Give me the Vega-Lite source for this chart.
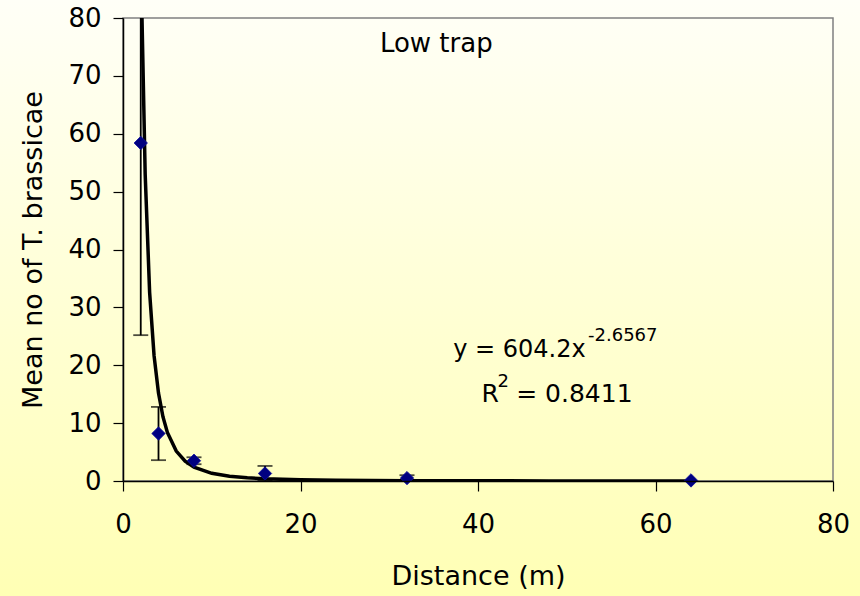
{
  "$schema": "https://vega.github.io/schema/vega-lite/v6.json",
  "autosize": {"type": "none"},
  "padding": {"left": 123, "top": 18, "right": 27, "bottom": 115},
  "width": 710,
  "height": 463,
  "background": "#FFFFE0",
  "config": {
    "font": "DejaVu Sans",
    "view": {"stroke": null, "fill": null},
    "axis": {
      "grid": false,
      "labelFlush": false,
      "domainColor": "#000000",
      "domainWidth": 1.5,
      "tickColor": "#000000",
      "tickWidth": 1.2,
      "tickSize": 10,
      "labelFont": "DejaVu Sans",
      "labelFontSize": 26,
      "labelColor": "#000000",
      "titleFont": "DejaVu Sans",
      "titleFontSize": 27,
      "titleFontWeight": "normal",
      "titleColor": "#000000"
    }
  },
  "datasets": {
    "obs": [
      {"distance": 2, "mean": 58.4, "lo": 25.2, "hi": 91.6},
      {"distance": 4, "mean": 8.2, "lo": 3.6, "hi": 12.8},
      {"distance": 8, "mean": 3.5, "lo": 2.9, "hi": 4.1},
      {"distance": 16, "mean": 1.3, "lo": 0.1, "hi": 2.6},
      {"distance": 32, "mean": 0.5, "lo": 0.0, "hi": 1.0},
      {"distance": 64, "mean": 0.1, "lo": null, "hi": null}
    ],
    "trend": [
      {"distance": 2, "fit": 95.8},
      {"distance": 2.14, "fit": 80.0},
      {"distance": 2.5, "fit": 52.96},
      {"distance": 3, "fit": 32.6},
      {"distance": 3.5, "fit": 21.66},
      {"distance": 4, "fit": 15.19},
      {"distance": 4.5, "fit": 11.11},
      {"distance": 5, "fit": 8.4},
      {"distance": 6, "fit": 5.17},
      {"distance": 7, "fit": 3.43},
      {"distance": 8, "fit": 2.41},
      {"distance": 10, "fit": 1.33},
      {"distance": 12, "fit": 0.82},
      {"distance": 14, "fit": 0.55},
      {"distance": 16, "fit": 0.38},
      {"distance": 20, "fit": 0.21},
      {"distance": 24, "fit": 0.13},
      {"distance": 32, "fit": 0.061},
      {"distance": 40, "fit": 0.034},
      {"distance": 48, "fit": 0.021},
      {"distance": 56, "fit": 0.014},
      {"distance": 64, "fit": 0.0096}
    ]
  },
  "layer": [
    {
      "data": {"values": [{"part": "background"}]},
      "mark": {
        "type": "rect",
        "clip": false,
        "fill": {
          "gradient": "linear",
          "x1": 0, "y1": 0, "x2": 0, "y2": 1,
          "stops": [
            {"offset": 0, "color": "#FFFFF8"},
            {"offset": 1, "color": "#FFFFB4"}
          ]
        }
      },
      "encoding": {
        "x": {"datum": -14.5, "type": "quantitative", "scale": {"domain": [0, 80]}},
        "x2": {"datum": 84},
        "y": {"datum": 84.5, "type": "quantitative", "scale": {"domain": [0, 80]}},
        "y2": {"datum": -20.5}
      }
    },
    {
      "data": {"values": [{"part": "frame"}]},
      "mark": {"type": "rect", "fill": null, "stroke": "#808080", "strokeWidth": 1.5, "clip": false},
      "encoding": {
        "x": {"datum": 0, "type": "quantitative"},
        "x2": {"datum": 80},
        "y": {"datum": 0, "type": "quantitative"},
        "y2": {"datum": 80}
      }
    },
    {
      "data": {"name": "trend"},
      "mark": {"type": "line", "color": "#000000", "strokeWidth": 3.5, "clip": true, "interpolate": "linear"},
      "encoding": {
        "x": {"field": "distance", "type": "quantitative", "scale": {"domain": [0, 80]},
              "axis": {"values": [0, 20, 40, 60, 80], "title": "Distance (m)", "labelPadding": 20, "titlePadding": 26, "zindex": 3}},
        "y": {"field": "fit", "type": "quantitative", "scale": {"domain": [0, 80]},
              "axis": {"values": [0, 10, 20, 30, 40, 50, 60, 70, 80], "title": "Mean no of T. brassicae", "labelPadding": 12, "titlePadding": 20, "zindex": 3}}
      }
    },
    {
      "data": {"name": "obs"},
      "transform": [{"filter": "datum.lo != null"}],
      "mark": {"type": "rule", "color": "#000000", "strokeWidth": 1.8, "clip": true},
      "encoding": {
        "x": {"field": "distance", "type": "quantitative"},
        "y": {"field": "lo", "type": "quantitative"},
        "y2": {"field": "hi"}
      }
    },
    {
      "data": {"name": "obs"},
      "transform": [{"filter": "datum.lo != null"}],
      "mark": {"type": "tick", "orient": "horizontal", "size": 15, "thickness": 1.8, "color": "#000000", "clip": true},
      "encoding": {
        "x": {"field": "distance", "type": "quantitative"},
        "y": {"field": "lo", "type": "quantitative"}
      }
    },
    {
      "data": {"name": "obs"},
      "transform": [{"filter": "datum.hi != null"}],
      "mark": {"type": "tick", "orient": "horizontal", "size": 15, "thickness": 1.8, "color": "#000000", "clip": true},
      "encoding": {
        "x": {"field": "distance", "type": "quantitative"},
        "y": {"field": "hi", "type": "quantitative"}
      }
    },
    {
      "data": {"name": "obs"},
      "mark": {"type": "point", "shape": "diamond", "filled": true, "size": 180, "color": "#000080", "stroke": "#1010A0", "strokeWidth": 0.8, "opacity": 1},
      "encoding": {
        "x": {"field": "distance", "type": "quantitative"},
        "y": {"field": "mean", "type": "quantitative"}
      }
    },
    {
      "data": {"values": [{"label": "Low trap"}]},
      "mark": {"type": "text", "align": "center", "baseline": "alphabetic", "fontSize": 26, "color": "#000000"},
      "encoding": {
        "x": {"datum": 35.3, "type": "quantitative"},
        "y": {"datum": 74.1, "type": "quantitative"},
        "text": {"field": "label"}
      }
    },
    {
      "data": {"values": [{"label": "y = 604.2x"}]},
      "mark": {"type": "text", "align": "left", "baseline": "alphabetic", "fontSize": 24, "color": "#000000"},
      "encoding": {
        "x": {"datum": 37.2, "type": "quantitative"},
        "y": {"datum": 21.4, "type": "quantitative"},
        "text": {"field": "label"}
      }
    },
    {
      "data": {"values": [{"label": "-2.6567"}]},
      "mark": {"type": "text", "align": "left", "baseline": "alphabetic", "fontSize": 18, "color": "#000000"},
      "encoding": {
        "x": {"datum": 52.4, "type": "quantitative"},
        "y": {"datum": 24.2, "type": "quantitative"},
        "text": {"field": "label"}
      }
    },
    {
      "data": {"values": [{"label": "R"}]},
      "mark": {"type": "text", "align": "left", "baseline": "alphabetic", "fontSize": 25, "color": "#000000"},
      "encoding": {
        "x": {"datum": 40.4, "type": "quantitative"},
        "y": {"datum": 13.6, "type": "quantitative"},
        "text": {"field": "label"}
      }
    },
    {
      "data": {"values": [{"label": "2"}]},
      "mark": {"type": "text", "align": "left", "baseline": "alphabetic", "fontSize": 18, "color": "#000000"},
      "encoding": {
        "x": {"datum": 42.2, "type": "quantitative"},
        "y": {"datum": 16.3, "type": "quantitative"},
        "text": {"field": "label"}
      }
    },
    {
      "data": {"values": [{"label": "= 0.8411"}]},
      "mark": {"type": "text", "align": "left", "baseline": "alphabetic", "fontSize": 25, "color": "#000000"},
      "encoding": {
        "x": {"datum": 44.3, "type": "quantitative"},
        "y": {"datum": 13.6, "type": "quantitative"},
        "text": {"field": "label"}
      }
    }
  ]
}
